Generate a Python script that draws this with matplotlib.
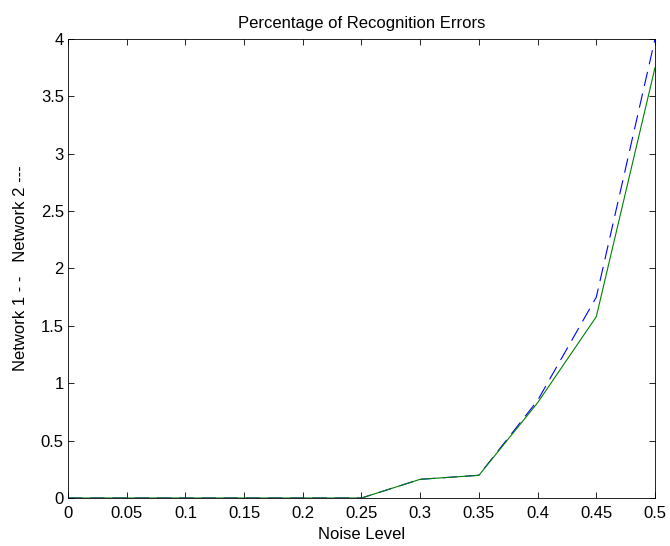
import matplotlib
matplotlib.use('Agg')
import matplotlib.pyplot as plt

plt.rcParams['font.family'] = ['Liberation Sans', 'DejaVu Sans']

noise = [0, 0.05, 0.1, 0.15, 0.2, 0.25, 0.3, 0.35, 0.4, 0.45, 0.5]
net1 = [0, 0, 0, 0, 0, 0, 0.163, 0.198, 0.85, 1.75, 4.0]
net2 = [0, 0, 0, 0, 0, 0, 0.163, 0.198, 0.83, 1.58, 3.75]

fig = plt.figure(figsize=(6.7, 5.46), dpi=100)
ax = fig.add_axes([0.1015, 0.0879, 0.8761, 0.8407])

ax.plot(noise, net1, color='blue', linewidth=0.8, dashes=(13, 7))
ax.plot(noise, net2, color='green', linewidth=0.8)

ax.set_xlim(0, 0.5)
ax.set_ylim(0, 4)
ax.set_xticks(noise)
ax.set_xticklabels(['0', '0.05', '0.1', '0.15', '0.2', '0.25', '0.3', '0.35', '0.4', '0.45', '0.5'])
ax.set_yticks([0, 0.5, 1, 1.5, 2, 2.5, 3, 3.5, 4])
ax.set_yticklabels(['0', '0.5', '1', '1.5', '2', '2.5', '3', '3.5', '4'])
ax.tick_params(direction='in', top=True, right=True, length=4.5, width=0.6,
               labelsize=12, pad=3)
ax.tick_params(axis='x', pad=6)
for s in ax.spines.values():
    s.set_linewidth(0.6)

ax.set_title('Percentage of Recognition Errors', fontsize=12, pad=8)
ax.set_xlabel('Noise Level', fontsize=12, labelpad=4)
ax.set_ylabel('Network 1 - -   Network 2 ---', fontsize=12, labelpad=9)

fig.savefig('out.png', dpi=100)
